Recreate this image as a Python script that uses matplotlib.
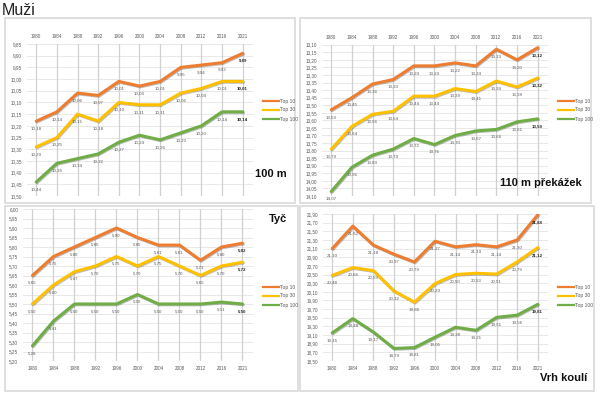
import matplotlib
matplotlib.use('Agg')
import matplotlib.pyplot as plt
import matplotlib.patheffects as pe
from matplotlib.patches import Rectangle
from matplotlib.lines import Line2D

plt.rcParams['font.family'] = ['Liberation Sans', 'DejaVu Sans']

years = ['1980', '1984', '1988', '1992', '1996', '2000', '2004', '2008', '2012', '2016', '2021']
series_names = ['Top 10', 'Top 30', 'Top 100']
colors = ['#ED7D31', '#FFC000', '#70AD47']

sprint_top10 = [10.18, 10.14, 10.06, 10.07, 10.01, 10.03, 10.01, 9.95, 9.94, 9.93, 9.89]
sprint_top30 = [10.29, 10.25, 10.15, 10.18, 10.10, 10.11, 10.11, 10.06, 10.04, 10.01, 10.01]
sprint_top100 = [10.44, 10.36, 10.34, 10.32, 10.27, 10.24, 10.26, 10.23, 10.20, 10.14, 10.14]

hurdles_top10 = [13.53, 13.45, 13.36, 13.33, 13.24, 13.24, 13.22, 13.24, 13.13, 13.20, 13.12]
hurdles_top30 = [13.79, 13.64, 13.56, 13.54, 13.44, 13.44, 13.39, 13.41, 13.34, 13.38, 13.32]
hurdles_top100 = [14.07, 13.91, 13.83, 13.79, 13.72, 13.76, 13.70, 13.67, 13.66, 13.61, 13.59]

pole_top10 = [5.65, 5.75, 5.80, 5.85, 5.90, 5.85, 5.81, 5.81, 5.73, 5.80, 5.82]
pole_top30 = [5.50, 5.60, 5.67, 5.70, 5.75, 5.70, 5.75, 5.70, 5.65, 5.70, 5.72]
pole_top100 = [5.28, 5.41, 5.50, 5.50, 5.50, 5.55, 5.50, 5.50, 5.50, 5.51, 5.50]

shot_top10 = [21.10, 21.62, 21.18, 20.97, 20.79, 21.27, 21.14, 21.19, 21.14, 21.30, 21.88]
shot_top30 = [20.48, 20.66, 20.59, 20.12, 19.86, 20.29, 20.50, 20.53, 20.51, 20.79, 21.12]
shot_top100 = [19.15, 19.48, 19.17, 18.79, 18.81, 19.05, 19.28, 19.21, 19.51, 19.56, 19.81]

W, H = 600, 393
fig = plt.figure(figsize=(W / 100, H / 100), dpi=100)
fig.patch.set_facecolor('white')


def fx(x):
    return x / W


def fy(y):
    return 1 - y / H


def comma(v):
    return f'{v:.2f}'.replace('.', ',')


def panel_box(left, top, right, bottom):
    fig.patches.append(Rectangle((fx(left), fy(bottom)), (right - left) / W, (bottom - top) / H,
                                 transform=fig.transFigure, facecolor='white',
                                 edgecolor='#d9d9d9', lw=1.2, zorder=-10))


def draw_panel(box, data, ylo, yhi, step, invert, xtop, title, title_pos, legend_xy):
    left, top, right, bottom = box
    ax = fig.add_axes([fx(left), fy(bottom), (right - left) / W, (bottom - top) / H])
    ax.set_facecolor('none')
    x = list(range(len(years)))
    for vals, c, name in zip(data, colors, series_names):
        ax.plot(x, vals, color=c, lw=2.2, solid_capstyle='round', label=name, zorder=3,
                path_effects=[pe.SimpleLineShadow(offset=(0.6, -0.6), alpha=0.25), pe.Normal()])
        for i, v in enumerate(vals):
            last = i == len(vals) - 1
            ax.annotate(comma(v), (i, v), xytext=(0, -3.8), textcoords='offset points',
                        ha='center', va='top', fontsize=3.2,
                        color='#262626' if last else '#595959',
                        fontweight='bold' if last else 'normal', zorder=4)
    n = int(round((yhi - ylo) / step))
    ticks = [ylo + k * step for k in range(n + 1)]
    ax.set_yticks(ticks)
    ax.set_yticklabels([comma(t) for t in ticks])
    ax.set_xticks(x)
    ax.set_xticklabels(years)
    ax.set_xlim(-0.45, len(years) - 0.5)
    if invert:
        ax.set_ylim(yhi, ylo)
    else:
        ax.set_ylim(ylo, yhi)
    for t in ticks:
        ax.axhline(t, color='#e4e4e4', lw=0.6, zorder=1)
    for i in x:
        ax.axvline(i, color='#d0d0d0', lw=0.9, zorder=2)
    for s in ax.spines.values():
        s.set_visible(False)
    ax.tick_params(length=0, labelsize=3.3, labelcolor='#595959', pad=3.5)
    if xtop:
        ax.xaxis.tick_top()
    handles = [Line2D([0], [0], color=c, lw=1.6) for c in colors]
    ax.legend(handles, series_names, loc='center left',
              bbox_to_anchor=(fx(legend_xy[0]), fy(legend_xy[1])), bbox_transform=fig.transFigure,
              frameon=False, fontsize=3.6, handlelength=3.2, handletextpad=0.3,
              labelspacing=0.8, borderpad=0, labelcolor='#595959')
    fig.text(fx(title_pos[0]), fy(title_pos[1]), title, fontsize=8, fontweight='bold',
             ha='left', va='center', color='#111111')
    return ax


fig.text(fx(2), fy(10.5), 'Muži', fontsize=11.5, ha='left', va='center', color='#222222')

panel_box(5, 18, 295, 203)
panel_box(300, 18, 591, 203)
panel_box(5, 206, 298, 391)
panel_box(300, 206, 594, 391)

draw_panel((27, 44, 253, 196), [sprint_top10, sprint_top30, sprint_top100],
           9.85, 10.50, 0.05, True, True, '100 m', (255, 174), (260, 110))
draw_panel((322, 44.7, 548, 196), [hurdles_top10, hurdles_top30, hurdles_top100],
           13.10, 14.10, 0.05, True, True, '110 m překážek', (500, 183), (555, 110))
draw_panel((23, 209, 253, 361), [pole_top10, pole_top30, pole_top100],
           5.20, 6.00, 0.05, False, False, 'Tyč', (269, 219), (260, 296))
draw_panel((323, 214, 548, 361), [shot_top10, shot_top30, shot_top100],
           18.50, 21.90, 0.20, False, False, 'Vrh koulí', (540, 378), (555, 296))

fig.savefig('out.png', dpi=100)
